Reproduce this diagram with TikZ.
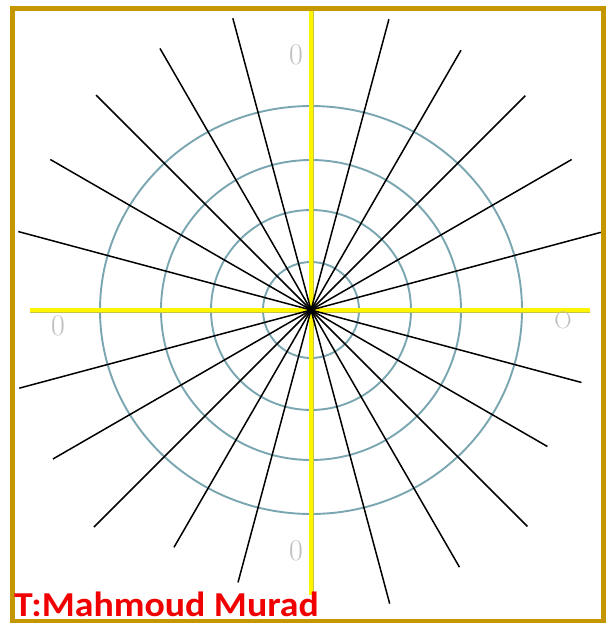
\documentclass[tikz,border=0pt]{standalone}
\usepackage{fontspec}
\newfontfamily\carlito{Carlito}
\definecolor{framecol}{RGB}{196,150,0}
\definecolor{ringcol}{RGB}{122,166,178}
\definecolor{axiscol}{RGB}{255,245,0}
\definecolor{axisedge}{RGB}{200,195,60}
\definecolor{namecol}{RGB}{240,0,0}
\begin{document}
\begin{tikzpicture}[x=1pt,y=-1pt,
  ray/.style={black, line width=1.5pt},
  ringline/.style={ringcol, line width=1.9pt},
  axisedgeline/.style={axisedge, line width=5pt},
  axisline/.style={axiscol, line width=3.6pt},
  zerolabel/.style={text=gray!50, font=\fontsize{30}{30}\selectfont, inner sep=0pt}]
\useasboundingbox (0,0) rectangle (605,623);
\fill[white] (0,0) rectangle (605,623);
\coordinate (c) at (311,310);
% rings
\draw[ringline] (c) circle [radius=48];
\draw[ringline] (c) circle [radius=100];
\draw[ringline] (c) circle [radius=150];
\draw[ringline] (c) ellipse [x radius=211, y radius=204];
% axes
\coordinate (vt) at (311,10);
\coordinate (vb) at (311,595);
\coordinate (hl) at (30,310);
\coordinate (hr) at (590,310);
\draw[axisedgeline] (vt) -- (vb);
\draw[axisedgeline] (hl) -- (hr);
\draw[axisline] (vt) -- (vb);
\draw[axisline] (hl) -- (hr);
% rays
\begin{scope}
\clip (15,11) rectangle (601,619);
\foreach \a/\l in {15/300,30/301,45/303,60/300,75/301,
                   105/302,120/302,135/304,150/301,165/303,
                   195/302,210/298,225/307,240/274,255/282,
                   285/304,300/297,315/306,330/273,345/280}
  \draw[ray] (c) -- ++(-\a:\l);
\end{scope}
% zero labels
\node[zerolabel] (ztop) at (296,55) {0};
\node[zerolabel] (zleft) at (58,326) {0};
\node[zerolabel, font=\fontsize{24}{24}\selectfont] (zright) at (563,320) {O};
\node[zerolabel] (zbot) at (296,551) {0};
% frame
\draw[framecol, line width=5pt] (12.5,8.5) rectangle (603,621);
% author
\node[anchor=base west, inner sep=0pt, text=namecol, xscale=1.08,
      font=\carlito\bfseries\fontsize{35}{35}\selectfont] (author) at (14,616) {T:Mahmoud Murad};
\end{tikzpicture}
\end{document}
